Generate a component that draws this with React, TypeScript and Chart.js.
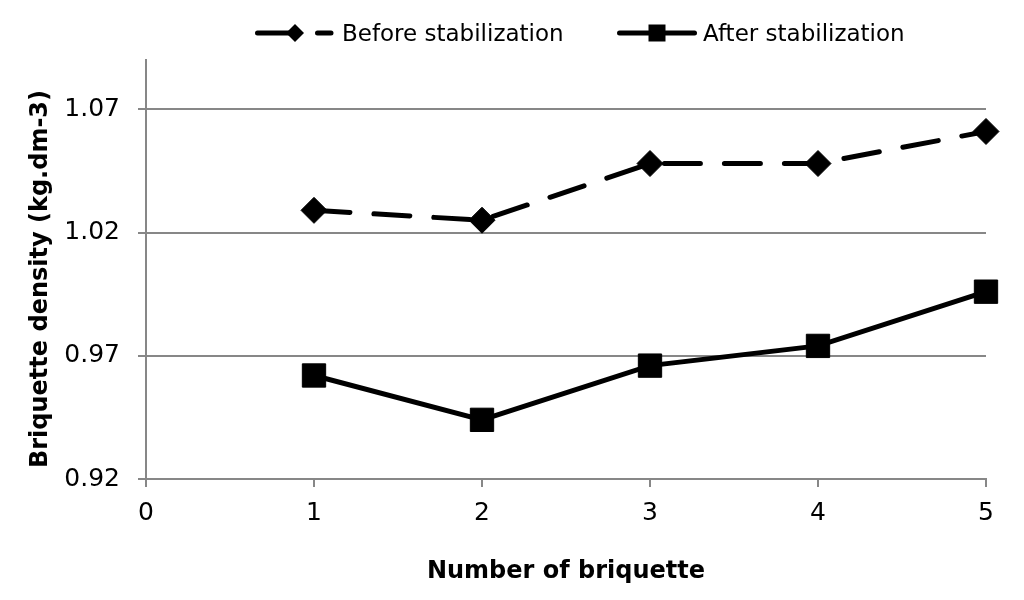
import React, { useEffect, useRef } from "react";
import { Chart, registerables } from "chart.js";

Chart.register(...registerables);

// ---- data ----
const xValues = [1, 2, 3, 4, 5];
const beforeValues = [1.029, 1.025, 1.048, 1.048, 1.061];
const afterValues = [0.962, 0.944, 0.966, 0.974, 0.996];
const seriesLabels = ["Before stabilization", "After stabilization"];
const yTicks = [0.92, 0.97, 1.02, 1.07];
const xTicks = [0, 1, 2, 3, 4, 5];
const xTitle = "Number of briquette";
const yTitle = "Briquette density (kg.dm-3)";

const FONT = "DejaVu Sans";
const GREY = "#878787";

const legendLayout = [
  { lineStart: 257.5, lineEnd: 331, marker: 295, text: 342 },
  { lineStart: 619.5, lineEnd: 694.5, marker: 657, text: 703 },
];

const lineLegend = {
  id: "lineLegend",
  afterDraw(chart: any) {
    const ctx: CanvasRenderingContext2D = chart.ctx;
    const y = 33;
    chart.data.datasets.forEach((ds: any, i: number) => {
      const it = legendLayout[i];
      if (!it) return;
      ctx.save();
      ctx.strokeStyle = ds.borderColor;
      ctx.lineWidth = ds.borderWidth;
      ctx.lineCap = "round";
      ctx.setLineDash(ds.borderDash || []);
      ctx.beginPath();
      ctx.moveTo(it.lineStart, y);
      ctx.lineTo(it.lineEnd, y);
      ctx.stroke();
      ctx.setLineDash([]);
      ctx.fillStyle = ds.pointBackgroundColor;
      ctx.beginPath();
      if (ds.pointStyle === "rectRot") {
        const r = 9;
        ctx.moveTo(it.marker - r, y);
        ctx.lineTo(it.marker, y - r);
        ctx.lineTo(it.marker + r, y);
        ctx.lineTo(it.marker, y + r);
        ctx.closePath();
      } else {
        const h = 8.5;
        ctx.rect(it.marker - h, y - h, 2 * h, 2 * h);
      }
      ctx.fill();
      ctx.fillStyle = "#000";
      ctx.font = `23px "${FONT}"`;
      ctx.textBaseline = "alphabetic";
      ctx.textAlign = "left";
      ctx.fillText(ds.label, it.text, 41);
      ctx.restore();
    });
  },
};

const yAxisTitle = {
  id: "yAxisTitle",
  afterDraw(chart: any) {
    const ctx: CanvasRenderingContext2D = chart.ctx;
    ctx.save();
    ctx.translate(47, 279);
    ctx.rotate(-Math.PI / 2);
    ctx.fillStyle = "#000";
    ctx.font = `bold 24px "${FONT}"`;
    ctx.textAlign = "center";
    ctx.textBaseline = "alphabetic";
    ctx.fillText(yTitle, 0, 0);
    ctx.restore();
  },
};

export default function App() {
  const ref = useRef<HTMLCanvasElement | null>(null);

  useEffect(() => {
    if (!ref.current) return;
    const chart = new Chart(ref.current, {
      type: "line",
      data: {
        datasets: [
          {
            label: seriesLabels[0],
            data: xValues.map((x, i) => ({ x, y: beforeValues[i] })),
            borderColor: "#000",
            backgroundColor: "#000",
            borderWidth: 5,
            borderDash: [36, 24],
            borderCapStyle: "round",
            pointStyle: "rectRot",
            pointRadius: 13,
            pointBackgroundColor: "#000",
            pointBorderColor: "#000",
            pointBorderWidth: 1,
            tension: 0,
            clip: false,
          } as any,
          {
            label: seriesLabels[1],
            data: xValues.map((x, i) => ({ x, y: afterValues[i] })),
            borderColor: "#000",
            backgroundColor: "#000",
            borderWidth: 5,
            borderCapStyle: "round",
            pointStyle: "rect",
            pointRadius: 16.5,
            pointBackgroundColor: "#000",
            pointBorderColor: "#000",
            pointBorderWidth: 1,
            tension: 0,
            clip: false,
          } as any,
        ],
      },
      options: {
        animation: false,
        responsive: false,
        devicePixelRatio: 1,
        layout: { padding: { top: 60, right: 38, left: 0, bottom: 0 } },
        plugins: {
          legend: { display: false },
          tooltip: { enabled: false },
        },
        scales: {
          x: {
            type: "linear",
            min: 0,
            max: 5,
            afterBuildTicks: (scale: any) => {
              scale.ticks = xTicks.map((v) => ({ value: v }));
            },
            afterFit: (scale: any) => {
              scale.height = 121;
            },
            grid: {
              drawOnChartArea: false,
              drawTicks: true,
              tickLength: 8,
              color: GREY,
              lineWidth: 2,
            },
            border: { color: GREY, width: 2 },
            ticks: {
              color: "#000",
              font: { family: FONT, size: 25 },
              padding: 11,
              callback: (v: any) => String(v),
            },
            title: {
              display: true,
              text: xTitle,
              color: "#000",
              font: { family: FONT, size: 24, weight: "bold" },
              padding: { top: 0, bottom: 14 },
            },
          },
          y: {
            type: "linear",
            min: 0.92,
            max: 1.09,
            afterBuildTicks: (scale: any) => {
              scale.ticks = yTicks.map((v) => ({ value: v }));
            },
            afterFit: (scale: any) => {
              scale.width = 146;
            },
            grid: {
              drawOnChartArea: true,
              drawTicks: true,
              tickLength: 8,
              color: GREY,
              lineWidth: 2,
            },
            border: { color: GREY, width: 2 },
            ticks: {
              color: "#000",
              font: { family: FONT, size: 25 },
              padding: 18,
              callback: (v: any) => Number(v).toFixed(2),
            },
            title: { display: false, text: yTitle },
          },
        },
      },
      plugins: [lineLegend, yAxisTitle],
    });
    return () => chart.destroy();
  }, []);

  return (
    <div
      style={{
        position: "fixed",
        left: 0,
        top: 0,
        width: 1024,
        height: 600,
        background: "#fff",
      }}
    >
      <canvas ref={ref} width={1024} height={600} style={{ display: "block" }} />
    </div>
  );
}
